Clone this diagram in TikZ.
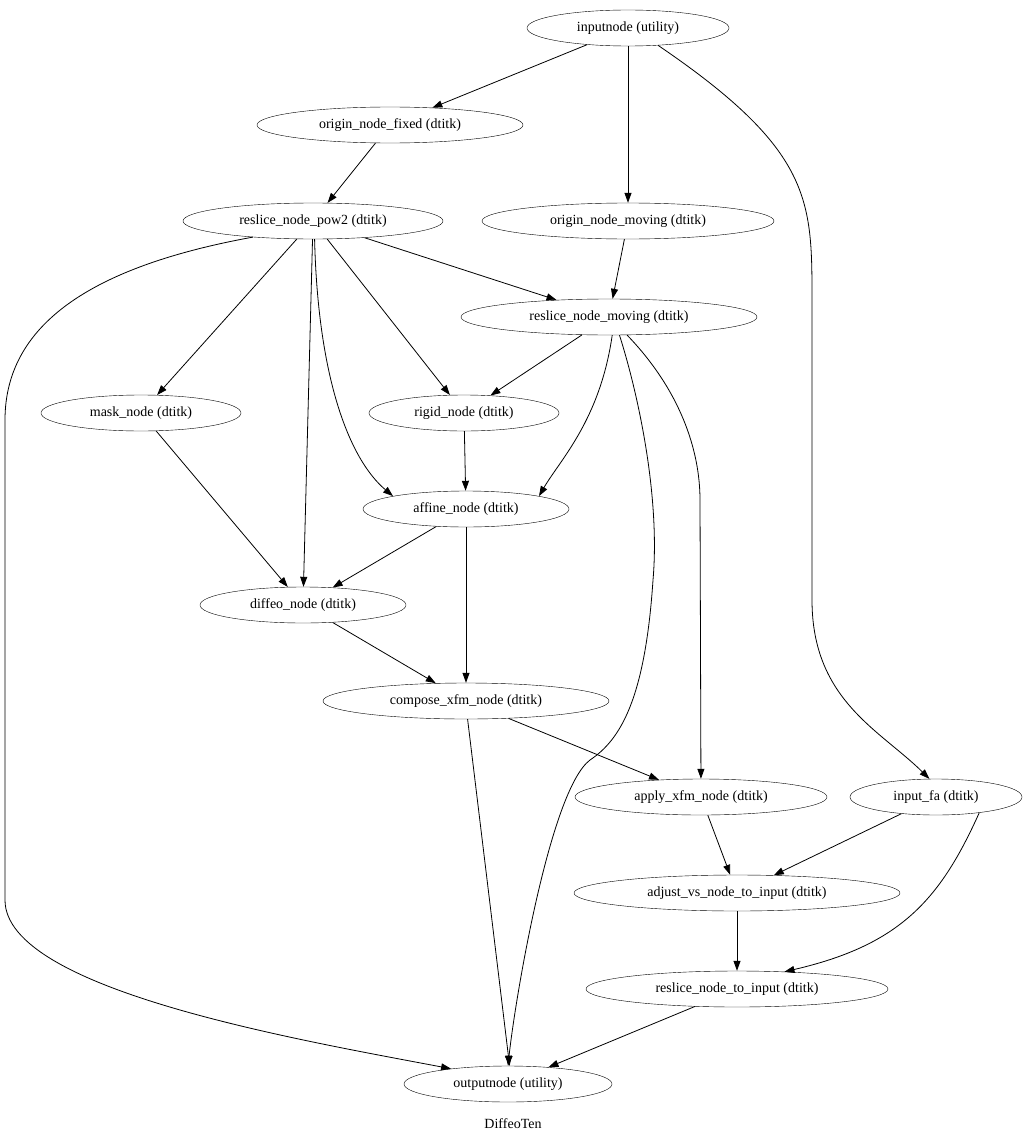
\documentclass[tikz,border=0pt]{standalone}
\usepackage{fontspec}
\setmainfont{Liberation Serif}
\usetikzlibrary{arrows.meta,shapes.geometric}
\begin{document}
\begin{tikzpicture}[x=1pt,y=-1pt,
  n/.style={draw,ellipse,minimum height=36pt,inner sep=0pt,font=\fontsize{14}{16}\selectfont},
  e/.style={-{Triangle[length=10pt,width=7pt]},line width=0.8pt}]
\useasboundingbox (0,0) rectangle (1028,1145);
\node[n,minimum width=202pt] (in) at (628,28) {inputnode (utility)};
\node[n,minimum width=266pt] (of) at (390,125) {origin\_node\_fixed (dtitk)};
\node[n,minimum width=260pt] (rp) at (313,221) {reslice\_node\_pow2 (dtitk)};
\node[n,minimum width=292pt] (om) at (628,221) {origin\_node\_moving (dtitk)};
\node[n,minimum width=296pt] (rm) at (609,317) {reslice\_node\_moving (dtitk)};
\node[n,minimum width=200pt] (mk) at (141,413) {mask\_node (dtitk)};
\node[n,minimum width=190pt] (rg) at (464,413) {rigid\_node (dtitk)};
\node[n,minimum width=206pt] (af) at (466,509) {affine\_node (dtitk)};
\node[n,minimum width=206pt] (df) at (303,605) {diffeo\_node (dtitk)};
\node[n,minimum width=286pt] (cx) at (466,701) {compose\_xfm\_node (dtitk)};
\node[n,minimum width=252pt] (ax) at (701,797) {apply\_xfm\_node (dtitk)};
\node[n,minimum width=172pt] (fa) at (936,797) {input\_fa (dtitk)};
\node[n,minimum width=326pt] (av) at (737,893) {adjust\_vs\_node\_to\_input (dtitk)};
\node[n,minimum width=302pt] (ri) at (737,989) {reslice\_node\_to\_input (dtitk)};
\node[n,minimum width=208pt] (on) at (508,1084) {outputnode (utility)};
\node[font=\fontsize{14}{16}\selectfont] (lb) at (513,1124) {DiffeoTen};
\draw[e] (in) -- (of);
\draw[e] (in) -- (om);
\draw[e] (in.-30) .. controls (812,150) and (812,200) .. (812,300) -- (812,600) .. controls (812,700) and (880,730) .. (fa.110);
\draw[e] (of) -- (rp);
\draw[e] (om) -- (rm);
\draw[e] (rp) -- (rm);
\draw[e] (rp) -- (mk);
\draw[e] (rp) -- (rg);
\draw[e] (rp) -- (df);
\draw[e] (rp.-85) .. controls (318,380) and (350,460) .. (af.170);
\draw[e] (rp.-165) .. controls (100,265) and (5,320) .. (5,420) -- (5,900) .. controls (5,990) and (300,1040) .. (on.165);
\draw[e] (rm) -- (rg);
\draw[e] (rm.-80) .. controls (600,420) and (560,460) .. (af.10);
\draw[e] (rm.-60) .. controls (640,400) and (660,500) .. (653,580) .. controls (645,700) and (620,740) .. (590,760) .. controls (550,790) and (515,1000) .. (on.90);
\draw[e] (rm.-45) .. controls (680,390) and (700,450) .. (700,500) -- (ax);
\draw[e] (rg) -- (af);
\draw[e] (af) -- (df);
\draw[e] (af) -- (cx);
\draw[e] (mk) -- (df);
\draw[e] (df) -- (cx);
\draw[e] (cx) -- (ax);
\draw[e] (cx.-85) -- (on.85);
\draw[e] (ax) -- (av);
\draw[e] (fa) -- (av);
\draw[e] (fa.-20) .. controls (940,900) and (900,945) .. (ri.20);
\draw[e] (av) -- (ri);
\draw[e] (ri) -- (on);
\end{tikzpicture}
\end{document}
